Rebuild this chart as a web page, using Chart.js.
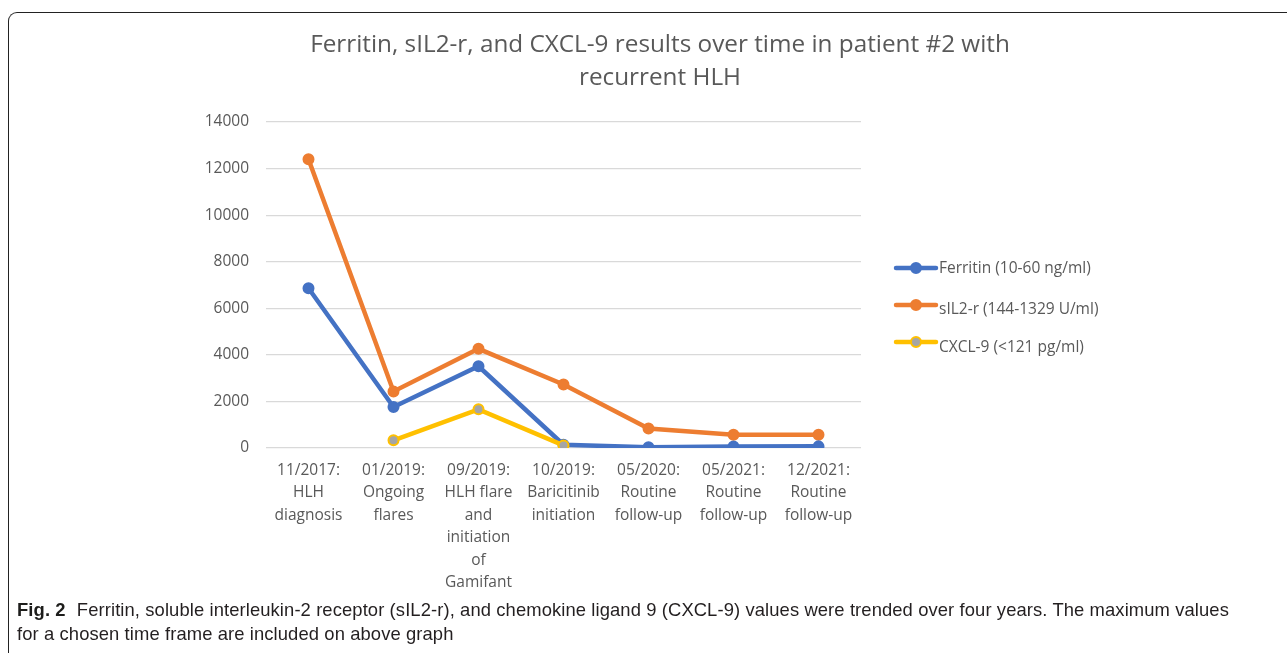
<!DOCTYPE html>
<html>
<head>
<meta charset="utf-8">
<script src="https://cdn.jsdelivr.net/npm/chart.js@4.4.1/dist/chart.umd.min.js"></script>
<style>
  html, body { margin: 0; padding: 0; background: #fff; width: 1287px; height: 653px; overflow: hidden; }
  #frame {
    position: absolute; left: 8px; top: 12px; width: 1400px; height: 700px;
    border-top: 1.5px solid #222; border-left: 1.5px solid #222;
    border-top-left-radius: 9px;
  }
  #wrap { position: absolute; left: 33px; top: 14px; width: 1254px; height: 590px; }
  #caption {
    position: absolute; left: 17px; top: 598px; width: 1268px;
    font-family: "Liberation Sans", sans-serif;
    font-size: 18.4px; line-height: 24px; color: #231f20; letter-spacing: 0.1px;
  }
  #caption b { color: #1d1d1b; margin-right: 6px; }
</style>
</head>
<body>
<div id="frame"></div>
<div id="wrap"><canvas id="chart"></canvas></div>
<div id="caption"><b>Fig. 2</b> Ferritin, soluble interleukin-2 receptor (sIL2-r), and chemokine ligand 9 (CXCL-9) values were trended over four years. The maximum values<br>for a chosen time frame are included on above graph</div>
<script>
// time points (multi-line category labels)
const timepoints = [
  ['11/2017:', 'HLH', 'diagnosis'],
  ['01/2019:', 'Ongoing', 'flares'],
  ['09/2019:', 'HLH flare', 'and', 'initiation', 'of', 'Gamifant'],
  ['10/2019:', 'Baricitinib', 'initiation'],
  ['05/2020:', 'Routine', 'follow-up'],
  ['05/2021:', 'Routine', 'follow-up'],
  ['12/2021:', 'Routine', 'follow-up'],
];

// values
const ferritin = [6860, 1760, 3510, 140, 30, 60, 70];
const sil2r = [12400, 2430, 4260, 2730, 840, 570, 570];
const cxcl9 = [null, 330, 1660, 110, null, null, null];

const seriesNames = ['Ferritin (10-60 ng/ml)', 'sIL2-r (144-1329 U/ml)', 'CXCL-9 (<121 pg/ml)'];
const titleLines = ['Ferritin, sIL2-r, and CXCL-9 results over time in patient #2 with', 'recurrent HLH'];

const BLUE = '#4472c4';
const ORANGE = '#ed7d31';
const YELLOW = '#ffc000';
const GREY = '#a5a5a5';
const TEXT = '#595959';
const FONT = "'Open Sans', sans-serif";

// title centred on the whole canvas, and an Excel-style legend
// (short line with a marker in the middle) to the right of the plot
const decorations = {
  id: 'decorations',
  afterDraw(chart) {
    const ctx = chart.ctx;
    ctx.save();
    ctx.fillStyle = TEXT;
    ctx.textAlign = 'center';
    ctx.textBaseline = 'middle';
    ctx.font = `24.3px ${FONT}`;
    titleLines.forEach((t, i) => ctx.fillText(t, chart.width / 2, 31 + i * 33));
    ctx.restore();

    const rows = [
      { lineY: 254, textY: 255 },
      { lineY: 291, textY: 296 },
      { lineY: 328, textY: 334 },
    ];
    chart.data.datasets.forEach((ds, i) => {
      const r = rows[i];
      ctx.save();
      ctx.strokeStyle = ds.borderColor;
      ctx.lineWidth = 4.5;
      ctx.lineCap = 'round';
      ctx.beginPath();
      ctx.moveTo(863, r.lineY);
      ctx.lineTo(903, r.lineY);
      ctx.stroke();
      ctx.beginPath();
      ctx.arc(883, r.lineY, 5, 0, Math.PI * 2);
      ctx.fillStyle = ds.pointBackgroundColor;
      ctx.fill();
      ctx.lineWidth = 2;
      ctx.strokeStyle = ds.pointBorderColor;
      ctx.stroke();
      ctx.fillStyle = TEXT;
      ctx.font = `15.5px ${FONT}`;
      ctx.textBaseline = 'middle';
      ctx.fillText(ds.label, 906, r.textY);
      ctx.restore();
    });
  },
};

function lineSet(label, data, color, fill, order) {
  return {
    label,
    data,
    borderColor: color,
    backgroundColor: color,
    borderWidth: 4.5,
    pointRadius: 5,
    pointHoverRadius: 5,
    pointBorderWidth: 2,
    pointBackgroundColor: fill,
    pointBorderColor: color,
    tension: 0,
    spanGaps: false,
    order,
  };
}

new Chart(document.getElementById('chart'), {
  type: 'line',
  data: {
    labels: timepoints,
    datasets: [
      lineSet(seriesNames[0], ferritin, BLUE, BLUE, 2),
      lineSet(seriesNames[1], sil2r, ORANGE, ORANGE, 3),
      lineSet(seriesNames[2], cxcl9, YELLOW, GREY, 1),
    ],
  },
  options: {
    responsive: true,
    maintainAspectRatio: false,
    animation: false,
    layout: { padding: { left: 0, right: 426, top: 108, bottom: 0 } },
    plugins: {
      legend: { display: false },
      tooltip: { enabled: false },
      title: { display: false },
    },
    scales: {
      x: {
        offset: true,
        grid: { display: false, drawTicks: false },
        border: { display: false },
        ticks: {
          color: TEXT,
          font: { family: FONT, size: 15.5, lineHeight: 1.45 },
          maxRotation: 0,
          autoSkip: false,
          padding: 11,
        },
        afterFit: s => { s.height = 156; },
      },
      y: {
        min: 0,
        max: 14000,
        grid: { color: '#d9d9d9', lineWidth: 1.2, drawTicks: false },
        border: { display: false },
        ticks: {
          stepSize: 2000,
          color: TEXT,
          font: { family: FONT, size: 15.5 },
          padding: 17,
          callback: v => String(v),
        },
        afterFit: s => { s.width = 233; },
      },
    },
  },
  plugins: [decorations],
});
</script>
</body>
</html>
